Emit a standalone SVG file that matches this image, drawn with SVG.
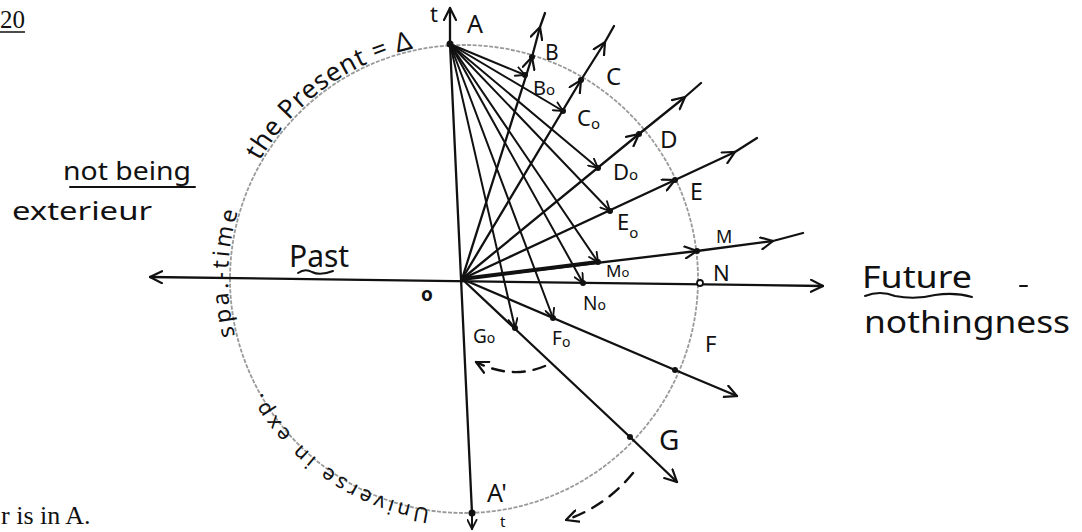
<svg xmlns="http://www.w3.org/2000/svg" width="1082" height="532" viewBox="0 0 1082 532">
<style>
.ln{stroke:#111;stroke-width:2;fill:none;stroke-linecap:round}
.ray{stroke:#111;stroke-width:2.3;fill:none;stroke-linecap:round;stroke-linejoin:round}
.dash{stroke:#111;stroke-width:2.4;fill:none;stroke-dasharray:12 9;stroke-linecap:round}
.circ{stroke:#9a9a9a;stroke-width:1.8;fill:none;stroke-dasharray:4 1.5}
.dot{fill:#111}
.hw{font-family:"Noto Sans","DejaVu Sans",sans-serif;fill:#111}
.sf{font-family:"Liberation Serif",serif;fill:#111}
</style>
<defs>
<marker id="ah" viewBox="0 0 14 14" refX="13" refY="7" markerWidth="14" markerHeight="14" markerUnits="userSpaceOnUse" orient="auto-start-reverse"><path d="M1,1 L13,7 L1,13" fill="none" stroke="#111" stroke-width="2.2" stroke-linecap="round"/></marker>
<marker id="ahs" viewBox="0 0 12 12" refX="11" refY="6" markerWidth="11" markerHeight="11" markerUnits="userSpaceOnUse" orient="auto"><path d="M1,1 L11,6 L1,11" fill="none" stroke="#111" stroke-width="2" stroke-linecap="round"/></marker>
<path id="arc" d="M464,515 A236,236 0 0 1 228,279 A236,236 0 0 1 464,43 A236,236 0 0 1 700,279"/>
<path id="arcIn" d="M464,511 A232,232 0 0 1 232,279"/>
</defs>
<rect width="1082" height="532" fill="#fff"/>

<g id="circle">
<circle class="circ" cx="464" cy="279" r="234"/>
</g>

<g id="circle-text" class="hw">
<text font-size="21"><textPath href="#arcIn" startOffset="34" textLength="212" lengthAdjust="spacing">Universe in exp.</textPath></text>
<text font-size="23"><textPath href="#arc" startOffset="313" textLength="126" lengthAdjust="spacing">spa.-time</textPath></text>
<text font-size="26"><textPath href="#arc" startOffset="494" textLength="196" lengthAdjust="spacing">the Present = Δ</textPath></text>
</g>

<g id="connectors">
<line class="ray" x1="150" y1="277" x2="823" y2="286" marker-start="url(#ah)" marker-end="url(#ah)"/>
<line class="ray" x1="450" y1="44" x2="472" y2="513"/>
<path class="ray" d="M450,44 L450,8" marker-end="url(#ah)"/>
<path class="ln" d="M472,513 L472,529" marker-end="url(#ahs)"/>
<path class="ray" d="M462,279 L532,57 L540,27 L545,13" marker-mid="url(#ah)"/>
<path class="ray" d="M462,279 L581,80 L605,42 L614,26" marker-mid="url(#ah)"/>
<path class="ray" d="M462,279 L639,134 L685,97 L701,83" marker-mid="url(#ah)"/>
<path class="ray" d="M462,279 L675,180 L735,152 L757,138" marker-mid="url(#ah)"/>
<path class="ray" d="M462,279 L697,251 L773,241 L803,233" marker-mid="url(#ah)"/>
<path class="ray" d="M462,279 L598,262" style="stroke-width:4"/>
<path class="ray" d="M462,279 L675,370 L737,396" marker-end="url(#ah)"/>
<path class="ray" d="M462,279 L630,437 L677,482" marker-end="url(#ah)"/>
<path class="ln" d="M450,44 L525,75" marker-end="url(#ahs)"/>
<path class="ln" d="M450,44 L563,111" marker-end="url(#ahs)"/>
<path class="ln" d="M450,44 L598,168" marker-end="url(#ahs)"/>
<path class="ln" d="M450,44 L610,211" marker-end="url(#ahs)"/>
<path class="ln" d="M450,44 L598,262" marker-end="url(#ahs)"/>
<path class="ln" d="M450,44 L583,283" marker-end="url(#ahs)"/>
<path class="ln" d="M450,44 L553,318" marker-end="url(#ahs)"/>
<path class="ln" d="M450,44 L515,328" marker-end="url(#ahs)"/>
<path class="dash" d="M545,366 Q512,380 476,362" marker-end="url(#ah)"/>
<path class="dash" d="M633,473 Q606,506 566,520" marker-end="url(#ah)"/>
</g>

<g id="node-A"><circle class="dot" cx="450" cy="44" r="3.5"/><text class="hw" x="467" y="33" font-size="25">A</text><text class="hw" x="430" y="22" font-size="22">t</text></g>
<g id="node-B"><circle class="dot" cx="532" cy="57" r="3"/><text class="hw" x="545" y="60" font-size="21">B</text></g>
<g id="node-B0"><circle class="dot" cx="525" cy="75" r="3"/><text class="hw" x="533" y="95" font-size="20">B<tspan font-size="15">o</tspan></text></g>
<g id="node-C"><circle class="dot" cx="581" cy="80" r="3"/><text class="hw" x="606" y="85" font-size="24">C</text></g>
<g id="node-C0"><circle class="dot" cx="563" cy="111" r="3"/><text class="hw" x="577" y="126" font-size="22">C<tspan font-size="15" dy="3">o</tspan></text></g>
<g id="node-D"><circle class="dot" cx="639" cy="134" r="3"/><text class="hw" x="660" y="148" font-size="24">D</text></g>
<g id="node-D0"><circle class="dot" cx="598" cy="168" r="3"/><text class="hw" x="613" y="180" font-size="22">D<tspan font-size="15">o</tspan></text></g>
<g id="node-E"><circle class="dot" cx="675" cy="180" r="3"/><text class="hw" x="690" y="200" font-size="23">E</text></g>
<g id="node-E0"><circle class="dot" cx="610" cy="211" r="3"/><text class="hw" x="617" y="230" font-size="22">E<tspan font-size="15" dy="8">o</tspan></text></g>
<g id="node-M"><circle class="dot" cx="697" cy="251" r="3"/><text class="hw" x="716" y="243" font-size="18">M</text></g>
<g id="node-M0"><circle class="dot" cx="598" cy="262" r="3"/><text class="hw" x="606" y="277" font-size="17">M<tspan font-size="13">o</tspan></text></g>
<g id="node-N"><circle cx="700" cy="283" r="3" fill="#fff" stroke="#111" stroke-width="1.8"/><text class="hw" x="713" y="281" font-size="22">N</text></g>
<g id="node-N0"><circle class="dot" cx="583" cy="283" r="3"/><text class="hw" x="583" y="310" font-size="19">N<tspan font-size="14">o</tspan></text></g>
<g id="node-F"><circle class="dot" cx="675" cy="370" r="3"/><text class="hw" x="705" y="352" font-size="22">F</text></g>
<g id="node-F0"><circle class="dot" cx="553" cy="318" r="3"/><text class="hw" x="552" y="345" font-size="19">F<tspan font-size="14" dy="2">o</tspan></text></g>
<g id="node-G"><circle class="dot" cx="630" cy="437" r="3"/><text class="hw" x="659" y="450" font-size="28">G</text></g>
<g id="node-G0"><circle class="dot" cx="515" cy="328" r="3"/><text class="hw" x="473" y="343" font-size="19">G<tspan font-size="14">o</tspan></text></g>
<g id="node-A1"><circle class="dot" cx="472" cy="513" r="3.5"/><text class="hw" x="487" y="502" font-size="25">A'</text><text class="hw" x="500" y="527" font-size="15">t</text></g>
<g id="node-O"><text class="hw" x="421" y="301" font-size="19" font-weight="bold">o</text></g>

<g id="labels">
<text class="hw" x="63" y="180" font-size="25" textLength="128" lengthAdjust="spacingAndGlyphs">not being</text>
<line class="ln" x1="70" y1="187" x2="195" y2="187"/>
<text class="hw" x="12" y="220" font-size="25" textLength="140" lengthAdjust="spacingAndGlyphs">exterieur</text>
<text class="hw" x="289" y="267" font-size="30">Past</text>
<path class="ln" d="M298,273 Q305,268 312,272 Q320,276 333,271"/>
<text class="hw" x="862" y="288" font-size="31" textLength="110" lengthAdjust="spacingAndGlyphs">Future</text>
<path class="ln" d="M865,296 Q880,290 895,296 Q915,300 935,295 Q955,292 972,297"/>
<line class="ln" x1="1020" y1="286" x2="1027" y2="286"/>
<text class="hw" x="864" y="333" font-size="31" textLength="206" lengthAdjust="spacingAndGlyphs">nothingness</text>
<text class="sf" x="0" y="28" font-size="25">20</text>
<line x1="0" y1="32" x2="25" y2="32" stroke="#111" stroke-width="1.5"/>
<text class="sf" x="1" y="524" font-size="26">r is in A.</text>
</g>
</svg>
